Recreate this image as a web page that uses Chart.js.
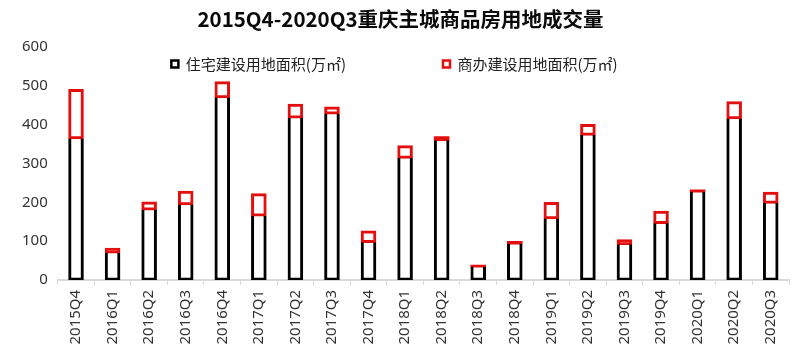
<!DOCTYPE html>
<html>
<head>
<meta charset="utf-8">
<script src="https://cdn.jsdelivr.net/npm/chart.js@4.4.1/dist/chart.umd.min.js"></script>
<style>
  html, body { margin: 0; padding: 0; background: #ffffff; }
  #wrap { width: 806px; height: 358px; position: relative; }
</style>
</head>
<body>
<div id="wrap"><canvas id="c" width="806" height="358"></canvas></div>
<script>
const chartTitle = '2015Q4-2020Q3重庆主城商品房用地成交量';
const categories = ['2015Q4','2016Q1','2016Q2','2016Q3','2016Q4','2017Q1','2017Q2','2017Q3','2017Q4','2018Q1','2018Q2','2018Q3','2018Q4','2019Q1','2019Q2','2019Q3','2019Q4','2020Q1','2020Q2','2020Q3'];
const residentialLabel = '住宅建设用地面积(万㎡)';
const commercialLabel = '商办建设用地面积(万㎡)';
const residential = [364, 70, 181, 194, 470, 165, 418, 428, 97, 314, 360, 34, 93, 158, 373, 92, 146, 227, 416, 198];
const commercial  = [126, 11, 19, 34, 40, 56, 34, 17, 28, 31, 8, 3, 5, 41, 27, 11, 30, 4, 42, 27];
const yMin = 0, yMax = 600, yStep = 100;

const RED = '#e30e0e';
const SMALL = 10;
const LEGEND_ITEM_Y = 56.5;
const LEGEND_RIGHT = 789;

const legendOverlay = {
  id: 'legendOverlay',
  beforeLayout(chart) {
    const lg = chart.legend;
    if (lg && !lg._overlayWrapped) {
      const origFit = lg.fit;
      lg.fit = function () { origFit.call(this); this.height = 0; };
      lg._overlayWrapped = true;
    }
  },
  afterLayout(chart) {
    const lg = chart.legend;
    if (!lg) return;
    const pad = lg.options.labels.padding;
    lg.left = 0; lg.right = LEGEND_RIGHT; lg.width = LEGEND_RIGHT;
    lg.top = LEGEND_ITEM_Y - pad; lg.bottom = LEGEND_ITEM_Y + 30; lg.height = lg.bottom - lg.top;
  }
};

new Chart(document.getElementById('c'), {
  type: 'bar',
  data: {
    labels: categories,
    datasets: [
      {
        label: residentialLabel,
        data: residential,
        backgroundColor: 'rgba(0,0,0,0)',
        borderColor: '#000000',
        borderWidth: 1.5,
        inflateAmount: 0.75,
        borderSkipped: 'end',
        barPercentage: 0.385,
        categoryPercentage: 1.0
      },
      {
        label: commercialLabel,
        data: commercial,
        backgroundColor: (ctx) => (typeof ctx.raw === 'number' && ctx.raw < SMALL) ? RED : 'rgba(0,0,0,0)',
        borderColor: RED,
        borderWidth: (ctx) => (typeof ctx.raw === 'number' && ctx.raw < SMALL) ? 0 : 1.5,
        inflateAmount: 0.75,
        borderSkipped: false,
        barPercentage: 0.385,
        categoryPercentage: 1.0
      }
    ]
  },
  options: {
    responsive: false,
    animation: false,
    devicePixelRatio: 1,
    layout: { padding: { left: 12, right: 17, top: 0, bottom: 8.5 } },
    plugins: {
      title: {
        display: true,
        text: chartTitle,
        color: '#0a0a0a',
        font: { family: "'Noto Sans CJK SC', 'Noto Sans', sans-serif", size: 20.5, weight: 'bold' },
        padding: { top: 6.7, bottom: 15.7 }
      },
      legend: {
        display: true,
        position: 'top',
        labels: {
          color: '#222222',
          font: { family: "'Noto Sans CJK SC', 'Noto Sans', sans-serif", size: 15 },
          boxWidth: 7,
          boxHeight: 7,
          padding: 97,
          generateLabels(chart) {
            const items = Chart.defaults.plugins.legend.labels.generateLabels(chart);
            items.forEach((it, i) => {
              it.lineWidth = 2.5;
              it.fillStyle = '#ffffff';
              it.strokeStyle = i === 0 ? '#000000' : RED;
            });
            return items;
          }
        }
      },
      tooltip: { enabled: false }
    },
    scales: {
      x: {
        stacked: true,
        grid: { display: true, drawOnChartArea: false, drawTicks: true, tickLength: 5, color: '#d9d9d9', offset: true },
        border: { display: true, color: '#d9d9d9', width: 2 },
        ticks: {
          color: '#333333',
          font: { family: "'Noto Sans', sans-serif", size: 15 },
          minRotation: 90,
          maxRotation: 90,
          autoSkip: false,
          padding: 5
        }
      },
      y: {
        stacked: true,
        min: yMin,
        max: yMax,
        grid: { display: false, drawTicks: false },
        border: { display: false },
        ticks: {
          stepSize: yStep,
          color: '#333333',
          font: { family: "'Noto Sans', sans-serif", size: 15 },
          padding: 10
        }
      }
    }
  },
  plugins: [legendOverlay]
});
</script>
</body>
</html>
